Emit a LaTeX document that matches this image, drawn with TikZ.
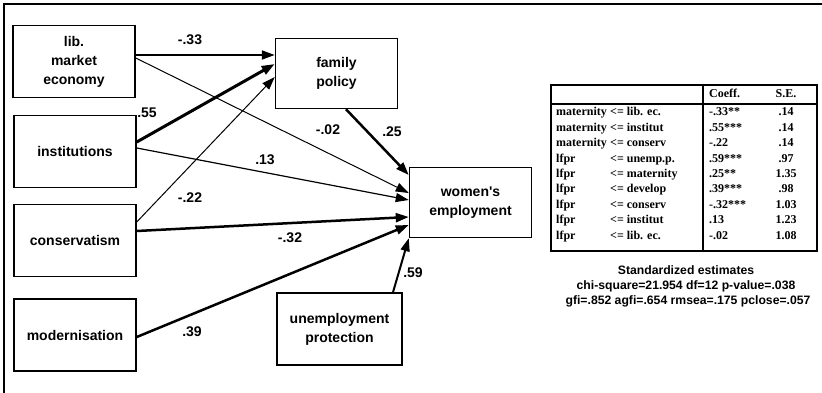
\documentclass[tikz,border=0pt]{standalone}
\usepackage{fontspec}
\setmainfont{Liberation Sans}
\newfontfamily\tabfont{Liberation Serif}
\usetikzlibrary{arrows.meta}
\tikzset{
  varbox/.style={draw, line width=1.5pt, minimum width=122pt, minimum height=72pt,
    inner sep=0pt, align=center, font=\bfseries\fontsize{14}{19}\selectfont},
  effect/.style={line width=1pt, -{Triangle[length=13pt,width=9pt]}},
  strongeffect/.style={effect, line width=2.5pt},
  coef/.style={font=\bfseries\fontsize{14}{16}\selectfont},
  tabtext/.style={inner sep=0pt, text height=8.5pt, text depth=2.5pt,
    font=\tabfont\bfseries\fontsize{12}{14}\selectfont},
  fitline/.style={font=\bfseries\fontsize{12.2}{15}\selectfont}
}
\begin{document}
\begin{tikzpicture}[x=1pt,y=-1pt]
\useasboundingbox (0,0) rectangle (822,393);
\draw[line width=2pt] (822,4) -- (4,4) -- (4,393);

\node[varbox] (lib) at (74,61.5) {lib.\\market\\economy};
\node[varbox] (inst) at (75,151.5) {institutions};
\node[varbox] (cons) at (75,240.5) {conservatism};
\node[varbox] (mod) at (75,335) {modernisation};
\node[varbox, minimum height=70pt] (fam) at (336.5,73.5) {family\\policy};
\node[varbox, minimum height=70pt] (wom) at (470.5,202.5) {women\textquotesingle s\\employment};
\node[varbox, minimum width=125pt] (unemp) at (339.5,329) {unemployment\\protection};

\draw[strongeffect, line width=2pt] ([yshift=6.5pt]lib.east) -- ([yshift=18.5pt]fam.west);
\draw[effect] ([yshift=3.5pt]lib.east) -- ([yshift=9.5pt]wom.west);
\draw[strongeffect, line width=3pt] ([yshift=9.5pt]inst.east) -- ([yshift=9.5pt]fam.west);
\draw[effect, line width=1.2pt] ([yshift=3.5pt]inst.east) -- ([yshift=2.5pt]wom.west);
\draw[effect] ([yshift=18.5pt]cons.east) -- ([yshift=-3.5pt]fam.west);
\draw[strongeffect] ([yshift=9.5pt]cons.east) -- ([yshift=-14.5pt]wom.west);
\draw[strongeffect] ([yshift=-2pt]mod.east) -- ([yshift=-22.5pt]wom.west);
\draw[strongeffect] ([xshift=9.5pt]fam.south) -- ([yshift=27.5pt]wom.west);
\draw[strongeffect, line width=2pt] ([xshift=53.5pt]unemp.north) -- (wom.south west);

\node[coef] (cLibFam) at (190,40) {-.33};
\node[coef] (cInstFam) at (147,113) {.55};
\node[coef] (cLibWom) at (328,130) {-.02};
\node[coef] (cFamWom) at (392,132) {.25};
\node[coef] (cInstWom) at (265,160) {.13};
\node[coef] (cConsFam) at (190,198) {-.22};
\node[coef] (cConsWom) at (290,238) {-.32};
\node[coef] (cModWom) at (192,332) {.39};
\node[coef] (cUnempWom) at (413,273) {.59};

\draw[line width=2pt] (551,85) rectangle (817,251);
\draw[line width=1.5pt] (551,104) -- (817,104);
\draw[line width=1.5pt] (703,85) -- (703,251);
\node[tabtext, anchor=west] (hcoef) at (709,95) {Coeff.};
\node[tabtext] (hse) at (786,95) {S.E.};
\foreach \dep/\ind/\co/\se [count=\r] in {
  maternity/lib. ec./-.33**/.14, maternity/institut/.55***/.14,
  maternity/conserv/-.22/.14, lfpr/unemp.p./.59***/.97,
  lfpr/maternity/.25**/1.35, lfpr/develop/.39***/.98,
  lfpr/conserv/-.32***/1.03, lfpr/institut/.13/1.23, lfpr/lib. ec./-.02/1.08}
{
  \node[tabtext, anchor=west] (dep\r) at (556,{97.6+15.4*\r}) {\dep};
  \node[tabtext, anchor=west] (ind\r) at (610,{97.6+15.4*\r}) {<= \ind};
  \node[tabtext, anchor=west] (co\r) at (709,{97.6+15.4*\r}) {\co};
  \node[tabtext] (se\r) at (786,{97.6+15.4*\r}) {\se};
}

\node[fitline] (est) at (686,270) {Standardized estimates};
\node[fitline] (chi) at (686,286) {chi-square=21.954 df=12 p-value=.038};
\node[fitline] (gfi) at (688,301) {gfi=.852 agfi=.654 rmsea=.175 pclose=.057};
\end{tikzpicture}
\end{document}
